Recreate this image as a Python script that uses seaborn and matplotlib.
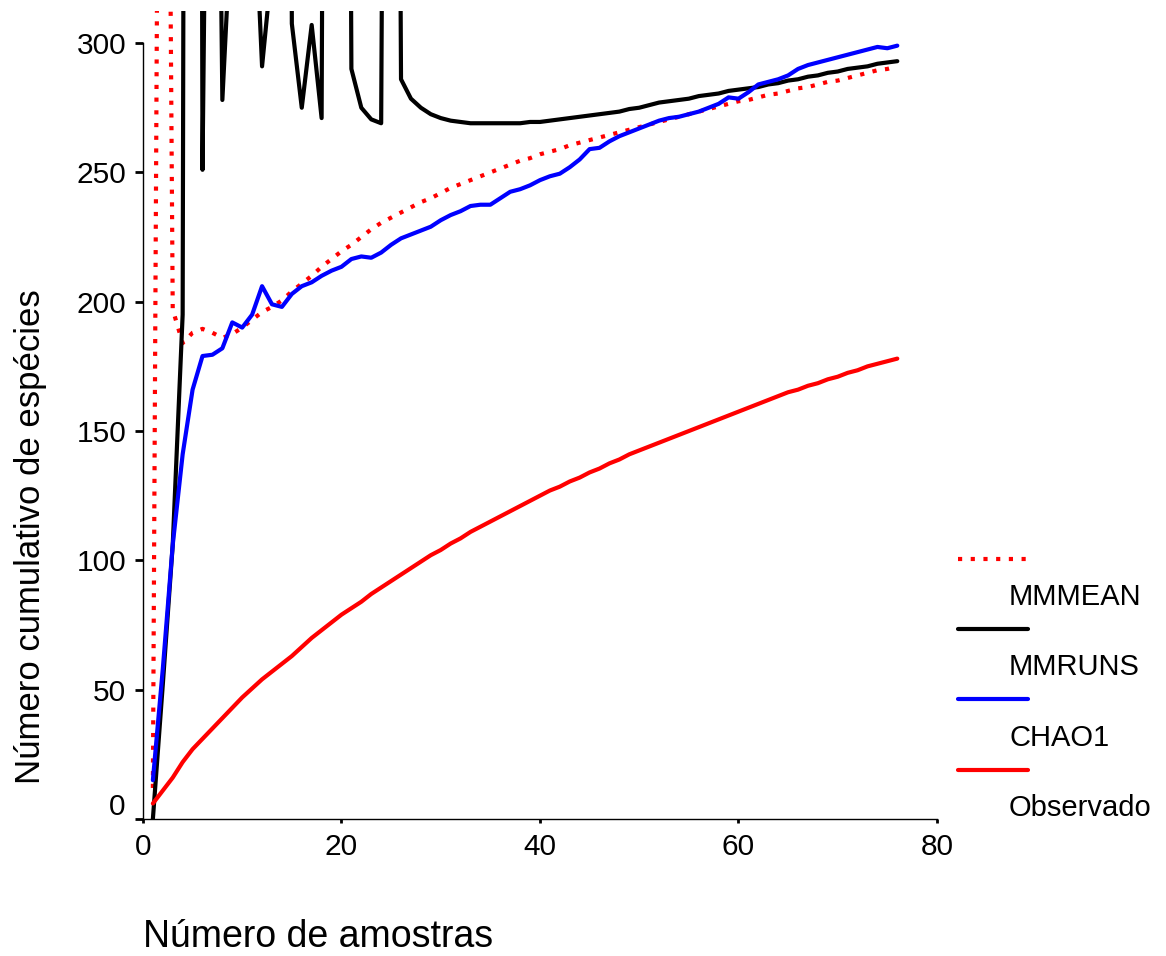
import matplotlib
matplotlib.use("Agg")
import matplotlib.pyplot as plt
import matplotlib.transforms as mtransforms
import seaborn as sns

# species accumulation estimators per number of samples
samples = list(range(1, 77))

mmmean = [12, 750, 197, 184, 188, 189.5, 188, 186, 187.5, 190,
          193, 196, 198, 200.5, 204, 207, 210, 213.5, 216.5, 219.5,
          222, 225, 228, 230.5, 232.5, 234.5, 236.5, 238.5, 240, 242,
          244, 245.5, 247, 248.5, 250, 251.5, 253, 254.5, 255.5, 257,
          258, 259, 260.5, 261.5, 262.5, 263.5, 264.5, 265.5, 266.5, 267.5,
          268.5, 269.5, 270.5, 271.5, 272.5, 273.5, 274.5, 275.5, 276.5, 277.5,
          278, 279, 280, 280.5, 281.5, 282.5, 283, 284, 285, 285.5,
          286.5, 287.5, 288.5, 289.5, 290, 291]

mmruns = [0, 52, 106, 195, 1870, 251, 620, 278, 355, 420,
          377, 291, 330, 1300, 307.5, 275, 307, 271, 1200, 1100,
          290, 275, 270.5, 269, 1000, 286, 278.5, 275, 272.5, 271,
          270, 269.5, 269, 269, 269, 269, 269, 269, 269.5, 269.5,
          270, 270.5, 271, 271.5, 272, 272.5, 273, 273.5, 274.5, 275,
          276, 277, 277.5, 278, 278.5, 279.5, 280, 280.5, 281.5, 282,
          282.5, 283, 284, 284.5, 285.5, 286, 287, 287.5, 288.5, 289,
          290, 290.5, 291, 292, 292.5, 293]

chao1 = [15, 58, 106, 141, 166, 179, 179.5, 182, 192, 190,
         195, 206, 199, 198, 203, 206, 207.5, 210, 212, 213.5,
         216.5, 217.5, 217, 219, 222, 224.5, 226, 227.5, 229, 231.5,
         233.5, 235, 237, 237.5, 237.5, 240, 242.5, 243.5, 245, 247,
         248.5, 249.5, 252, 255, 259, 259.5, 262, 264, 265.5, 267,
         268.5, 270, 271, 271.5, 272.5, 273.5, 275, 276.5, 279, 278.5,
         281, 284, 285, 286, 287.5, 290, 291.5, 292.5, 293.5, 294.5,
         295.5, 296.5, 297.5, 298.5, 298, 299]

observado = [6, 11, 16, 22, 27, 31, 35, 39, 43, 47,
             50.5, 54, 57, 60, 63, 66.5, 70, 73, 76, 79,
             81.5, 84, 87, 89.5, 92, 94.5, 97, 99.5, 102, 104,
             106.5, 108.5, 111, 113, 115, 117, 119, 121, 123, 125,
             127, 128.5, 130.5, 132, 134, 135.5, 137.5, 139, 141, 142.5,
             144, 145.5, 147, 148.5, 150, 151.5, 153, 154.5, 156, 157.5,
             159, 160.5, 162, 163.5, 165, 166, 167.5, 168.5, 170, 171,
             172.5, 173.5, 175, 176, 177, 178]

xticks = [0, 20, 40, 60, 80]
yticks = [0, 50, 100, 150, 200, 250, 300]

sns.set_theme(style="ticks")
plt.rcParams["font.family"] = ["Liberation Sans", "DejaVu Sans"]
for key in ["text.color", "axes.labelcolor", "xtick.color", "ytick.color", "axes.edgecolor"]:
    plt.rcParams[key] = "black"

fig = plt.figure(figsize=(11.66, 9.56), dpi=100)
ax = fig.add_axes([0.1226, 0.1433, 0.681, 0.8452])

sns.lineplot(x=samples, y=mmmean, ax=ax, color="#ff0000", linewidth=3.0,
             linestyle=(0, (1.0, 2.05)), label="MMMEAN")
sns.lineplot(x=samples, y=mmruns, ax=ax, color="black", linewidth=3.0, label="MMRUNS")
sns.lineplot(x=samples, y=chao1, ax=ax, color="#0000ff", linewidth=3.0, label="CHAO1")
sns.lineplot(x=samples, y=observado, ax=ax, color="#ff0000", linewidth=3.0, label="Observado")

ax.set_xlim(0, 80)
ax.set_ylim(0, 312.4)
ax.set_xticks(xticks)
ax.set_yticks(yticks)
sns.despine(ax=ax)
ax.spines["left"].set_bounds(0, 300)
ax.spines["bottom"].set_bounds(0, 80)
for s in ["left", "bottom"]:
    ax.spines[s].set_linewidth(1.0)
ax.tick_params(axis="x", length=3, width=2, pad=7, labelsize=21.5)
ax.tick_params(axis="y", length=6, width=2, pad=6, labelsize=21.5)

# the "0" on the y axis sits a little above its tick in the original
zero = ax.yaxis.get_major_ticks()[0].label1
zero.set_transform(zero.get_transform() +
                   mtransforms.ScaledTranslation(-1 / 72, 11 / 72, fig.dpi_scale_trans))

ax.set_xlabel("Número de amostras", fontsize=27, loc="left")
ax.xaxis.set_label_coords(0.0, -0.146)
ax.xaxis.label.set_verticalalignment("center")
ax.set_ylabel("Número cumulativo de espécies", fontsize=25)
ax.yaxis.set_label_coords(-0.142, 0.349)
ax.yaxis.label.set_verticalalignment("center")

leg = ax.legend(loc="upper left", bbox_to_anchor=(958 / 1166, 1 - 547 / 956),
                bbox_transform=fig.transFigure, frameon=False, fontsize=21,
                handlelength=2.4, handletextpad=-0.65, labelspacing=1.45,
                borderaxespad=0, borderpad=0)
for t in leg.get_texts():
    t.set_transform(t.get_transform() +
                    mtransforms.ScaledTranslation(0, -26 / 72, fig.dpi_scale_trans))

fig.savefig("out.png", dpi=100)
plt.close(fig)
